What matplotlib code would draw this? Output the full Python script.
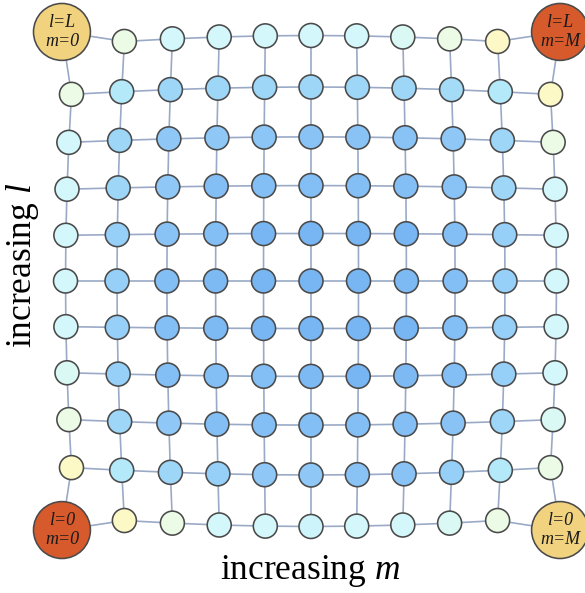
import numpy as np
import matplotlib
matplotlib.use('Agg')
import matplotlib.pyplot as plt
from matplotlib.patches import Circle
from matplotlib.colors import LinearSegmentedColormap

plt.rcParams['font.family'] = 'Liberation Serif'
plt.rcParams['mathtext.fontset'] = 'custom'
plt.rcParams['mathtext.rm'] = 'Liberation Serif'
plt.rcParams['mathtext.it'] = 'Liberation Serif:italic'

M = 10  # last column index (m)
L = 10  # last row index (l)

# shade of each node, 0 = darkest blue ... 7 = pale yellow
# rows go from l=L (top) down to l=0, columns m=0..M; corners are nan
shade = np.array([
    [np.nan, 6, 5, 5, 5, 5, 5, 5.3, 6, 7, np.nan],
    [6, 4, 3, 3, 3, 3, 3, 3, 3.3, 4, 7],
    [5, 3, 2, 2, 1.8, 1.5, 1.5, 1.5, 2, 3, 6],
    [5, 3, 2, 1, 1, 1, 1, 1, 1.5, 3, 5],
    [5, 2.5, 1.5, 1, 0, 0, 0, 0, 1, 2.5, 5],
    [5, 2.5, 1, 0.5, 0, 0, 0, 0.5, 1, 2.5, 5],
    [5, 2.5, 1, 0.5, 0, 0, 0, 0, 1, 2.5, 5],
    [5.3, 2.5, 1, 1, 1, 0.5, 0, 0.5, 1, 2.5, 5],
    [6, 3, 2, 1, 1, 1, 1, 1, 1.5, 3, 5.3],
    [7, 4, 3, 2.5, 2, 2, 1.5, 1.5, 2.5, 4, 6],
    [np.nan, 7, 6, 5, 5, 4.8, 5, 5, 5.3, 6, np.nan],
])
palette = ['#78b6f3', '#83bef5', '#8fc8f6', '#9ed6f8', '#b3e9f9', '#d3f7fa', '#ebfbe6', '#fdf9c7']

corner_nodes = [(0, L), (M, L), (0, 0), (M, 0)]  # (m, l)
corner_text = [('l=L', 'm=0'), ('l=L', 'm=M'), ('l=0', 'm=0'), ('l=0', 'm=M')]
corner_color = ['#f1d27f', '#d75a2c', '#d75a2c', '#f1d27f']

cmap = LinearSegmentedColormap.from_list('heat', palette)

# sheet-like layout: edges bulge a little, nodes near the corners pull in
c_stretch = 0.035
k_bulge = 0.038
corner_push = 1.05

def pos(m, l):
    u = (m - M/2)/(M/2)
    v = (l - L/2)/(L/2)
    if (m, l) in corner_nodes:
        return M/2 + M/2*u*corner_push, L/2 + L/2*v*corner_push
    x = M/2 + M/2*(u + c_stretch*u**3)*(1 - k_bulge*v**2)
    y = L/2 + L/2*(v + c_stretch*v**3)*(1 - k_bulge*u**2)
    return x, y

fig = plt.figure(figsize=(5.85, 5.93), dpi=100)
ax = fig.add_axes([0, 0, 1, 1])
ax.set_xlim(-1.556, 10.776)
ax.set_ylim(-1.577, 10.923)
ax.axis('off')

for m in range(M+1):
    for l in range(L+1):
        x0, y0 = pos(m, l)
        if m < M:
            x1, y1 = pos(m+1, l)
            ax.plot([x0, x1], [y0, y1], color='#9aaac6', lw=1.2, zorder=1)
        if l < L:
            x1, y1 = pos(m, l+1)
            ax.plot([x0, x1], [y0, y1], color='#9aaac6', lw=1.2, zorder=1)

for i in range(L+1):
    l = L - i
    for m in range(M+1):
        if (m, l) in corner_nodes:
            continue
        x, y = pos(m, l)
        ax.add_patch(Circle((x, y), 0.253, facecolor=cmap(shade[i, m]/7.),
                            edgecolor='#4a4a4a', lw=1.15, zorder=2))

for (m, l), txt, col in zip(corner_nodes, corner_text, corner_color):
    x, y = pos(m, l)
    ax.add_patch(Circle((x, y), 0.6, facecolor=col, edgecolor='#4a4a4a', lw=1.15, zorder=3))
    ax.text(x, y + 0.2, txt[0], ha='center', va='center', fontsize=13,
            fontstyle='italic', color='#1a1a1a', zorder=4)
    ax.text(x, y - 0.2, txt[1], ha='center', va='center', fontsize=13,
            fontstyle='italic', color='#1a1a1a', zorder=4)

fig.text(0.530, 0.037, 'increasing $m$', ha='center', va='center', fontsize=25.5)
fig.text(0.039, 0.553, 'increasing $l$', ha='center', va='center', fontsize=25.5, rotation=90)

fig.savefig('out.png', dpi=100)
